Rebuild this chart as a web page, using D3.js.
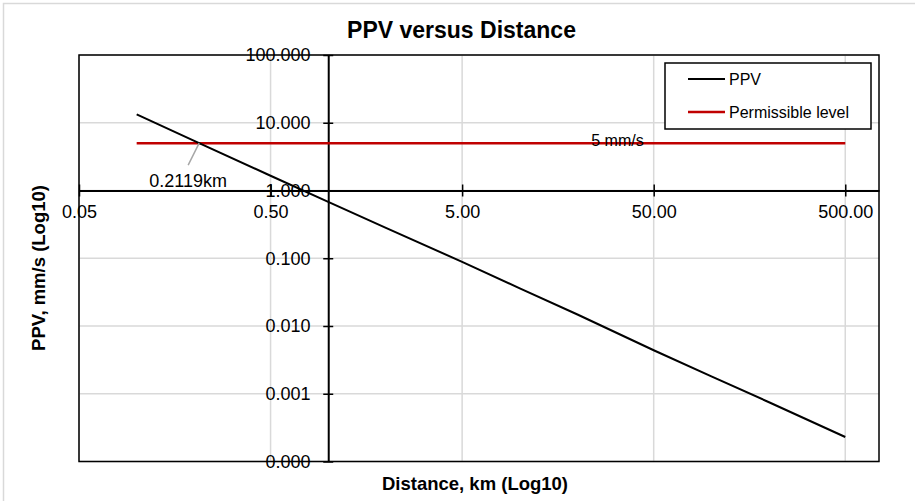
<!DOCTYPE html>
<html>
<head>
<meta charset="utf-8">
<script src="https://cdn.jsdelivr.net/npm/d3@7"></script>
<style>
  body { margin: 0; background: #fff; }
  svg { display: block; font-family: "Liberation Sans", Arial, sans-serif; }
</style>
</head>
<body>
<div id="chart"></div>
<script>
// values
const distances = [0.1, 0.2119, 0.5, 1, 2, 5, 10, 20, 50, 100, 200, 500];
const ppvValues = [13.3, 5.0, 1.65, 0.68, 0.28, 0.0885, 0.036, 0.0148, 0.00439, 0.0018, 0.00075, 0.00023];
const limitDistances = [0.1, 500];
const limitValues = [5, 5];
const xTicks = [0.05, 0.5, 5, 50, 500];
const yTicks = [0.0001, 0.001, 0.01, 0.1, 1, 10, 100];
const xBounds = [0.05, 750];
const yBounds = [0.0001, 100];
const crossAt = 1;
const seriesNames = ['PPV', 'Permissible level'];

const width = 915, height = 501;
const plot = { left: 79, right: 879, top: 55, bottom: 461.5 };
const RED = '#c00000';

const svg = d3.select('#chart').append('svg')
    .attr('width', width)
    .attr('height', height);

// outer chart border (only top/left visible in the crop)
svg.append('rect')
    .attr('x', 3.5).attr('y', 3.5)
    .attr('width', width + 20).attr('height', height + 20)
    .attr('fill', '#fff')
    .attr('stroke', '#d9d9d9')
    .attr('stroke-width', 1.5);

const x = d3.scaleLog().domain(xBounds).range([plot.left, plot.right]);
const y = d3.scaleLog().domain(yBounds).range([plot.bottom, plot.top]);

// gridlines
svg.append('g').selectAll('line')
    .data(xTicks)
    .enter().append('line')
    .attr('x1', d => x(d)).attr('x2', d => x(d))
    .attr('y1', plot.top).attr('y2', plot.bottom)
    .attr('stroke', '#d9d9d9').attr('stroke-width', 1.5);

svg.append('g').selectAll('line')
    .data(yTicks)
    .enter().append('line')
    .attr('x1', plot.left).attr('x2', plot.right)
    .attr('y1', d => y(d)).attr('y2', d => y(d))
    .attr('stroke', '#d9d9d9').attr('stroke-width', 1.5);

// plot frame
svg.append('rect')
    .attr('x', plot.left).attr('y', plot.top)
    .attr('width', plot.right - plot.left)
    .attr('height', plot.bottom - plot.top)
    .attr('fill', 'none')
    .attr('stroke', '#000')
    .attr('stroke-width', 1.5);

// x axis crossing at PPV = 1
const xAxis = svg.append('g')
    .attr('transform', `translate(0,${y(crossAt)})`)
    .call(d3.axisBottom(x)
        .tickValues(xTicks)
        .tickFormat(d3.format('.2f'))
        .tickSize(6)
        .tickSizeOuter(0)
        .tickPadding(8.5));
xAxis.selectAll('.tick line').attr('y1', -6).attr('stroke-width', 1.5);
xAxis.select('.domain').attr('stroke-width', 2);
xAxis.selectAll('text')
    .attr('font-size', '18px')
    .attr('font-family', '"Liberation Sans", Arial, sans-serif')
    .attr('fill', '#000');

// y axis crossing at distance = 1
const yAxis = svg.append('g')
    .attr('transform', `translate(${x(crossAt)},0)`)
    .call(d3.axisLeft(y)
        .tickValues(yTicks)
        .tickFormat(d3.format('.3f'))
        .tickSize(5)
        .tickSizeOuter(0)
        .tickPadding(12.7));
yAxis.selectAll('.tick line').attr('x1', 5).attr('stroke-width', 1.5);
yAxis.select('.domain').attr('stroke-width', 2);
yAxis.selectAll('text')
    .attr('font-size', '18px')
    .attr('font-family', '"Liberation Sans", Arial, sans-serif')
    .attr('fill', '#000');

// series
const line = d3.line()
    .x(d => x(d[0]))
    .y(d => y(d[1]));

svg.append('path')
    .datum(d3.zip(limitDistances, limitValues))
    .attr('d', line)
    .attr('fill', 'none')
    .attr('stroke', RED)
    .attr('stroke-width', 2.5);

svg.append('path')
    .datum(d3.zip(distances, ppvValues))
    .attr('d', line)
    .attr('fill', 'none')
    .attr('stroke', '#000')
    .attr('stroke-width', 2);

// data labels
svg.append('text')
    .attr('x', 617.5)
    .attr('y', y(limitValues[0]) + 3)
    .attr('text-anchor', 'middle')
    .attr('font-size', '16px')
    .text('5 mm/s');

const crossing = [distances[1], ppvValues[1]];
svg.append('line')
    .attr('x1', x(crossing[0])).attr('y1', y(crossing[1]))
    .attr('x2', x(crossing[0]) - 11).attr('y2', y(crossing[1]) + 22)
    .attr('stroke', '#a6a6a6')
    .attr('stroke-width', 1.5);

svg.append('text')
    .attr('x', x(crossing[0]) - 11)
    .attr('y', y(crossing[1]) + 44)
    .attr('text-anchor', 'middle')
    .attr('font-size', '18px')
    .text(crossing[0] + 'km');

// legend
const legend = svg.append('g').attr('transform', 'translate(665,63)');
legend.append('rect')
    .attr('width', 206).attr('height', 66)
    .attr('fill', '#fff')
    .attr('stroke', '#000')
    .attr('stroke-width', 1.5);

const legendRows = legend.selectAll('.row')
    .data(seriesNames)
    .enter().append('g')
    .attr('class', 'row')
    .attr('transform', (d, i) => `translate(0,${16 + i * 33})`);

legendRows.append('line')
    .attr('x1', 23).attr('x2', 60)
    .attr('stroke', (d, i) => i === 0 ? '#000' : RED)
    .attr('stroke-width', (d, i) => i === 0 ? 2 : 2.5);

legendRows.append('text')
    .attr('x', 64)
    .attr('dy', '0.35em')
    .attr('font-size', '16px')
    .text(d => d);

// titles
svg.append('text')
    .attr('x', 461.5).attr('y', 38)
    .attr('text-anchor', 'middle')
    .attr('font-size', '23px')
    .attr('font-weight', 'bold')
    .text('PPV versus Distance');

svg.append('text')
    .attr('x', 475).attr('y', 490)
    .attr('text-anchor', 'middle')
    .attr('font-size', '18.5px')
    .attr('font-weight', 'bold')
    .text('Distance, km (Log10)');

svg.append('text')
    .attr('transform', 'translate(45,268) rotate(-90)')
    .attr('text-anchor', 'middle')
    .attr('font-size', '18.5px')
    .attr('font-weight', 'bold')
    .text('PPV, mm/s (Log10)');
</script>
</body>
</html>
